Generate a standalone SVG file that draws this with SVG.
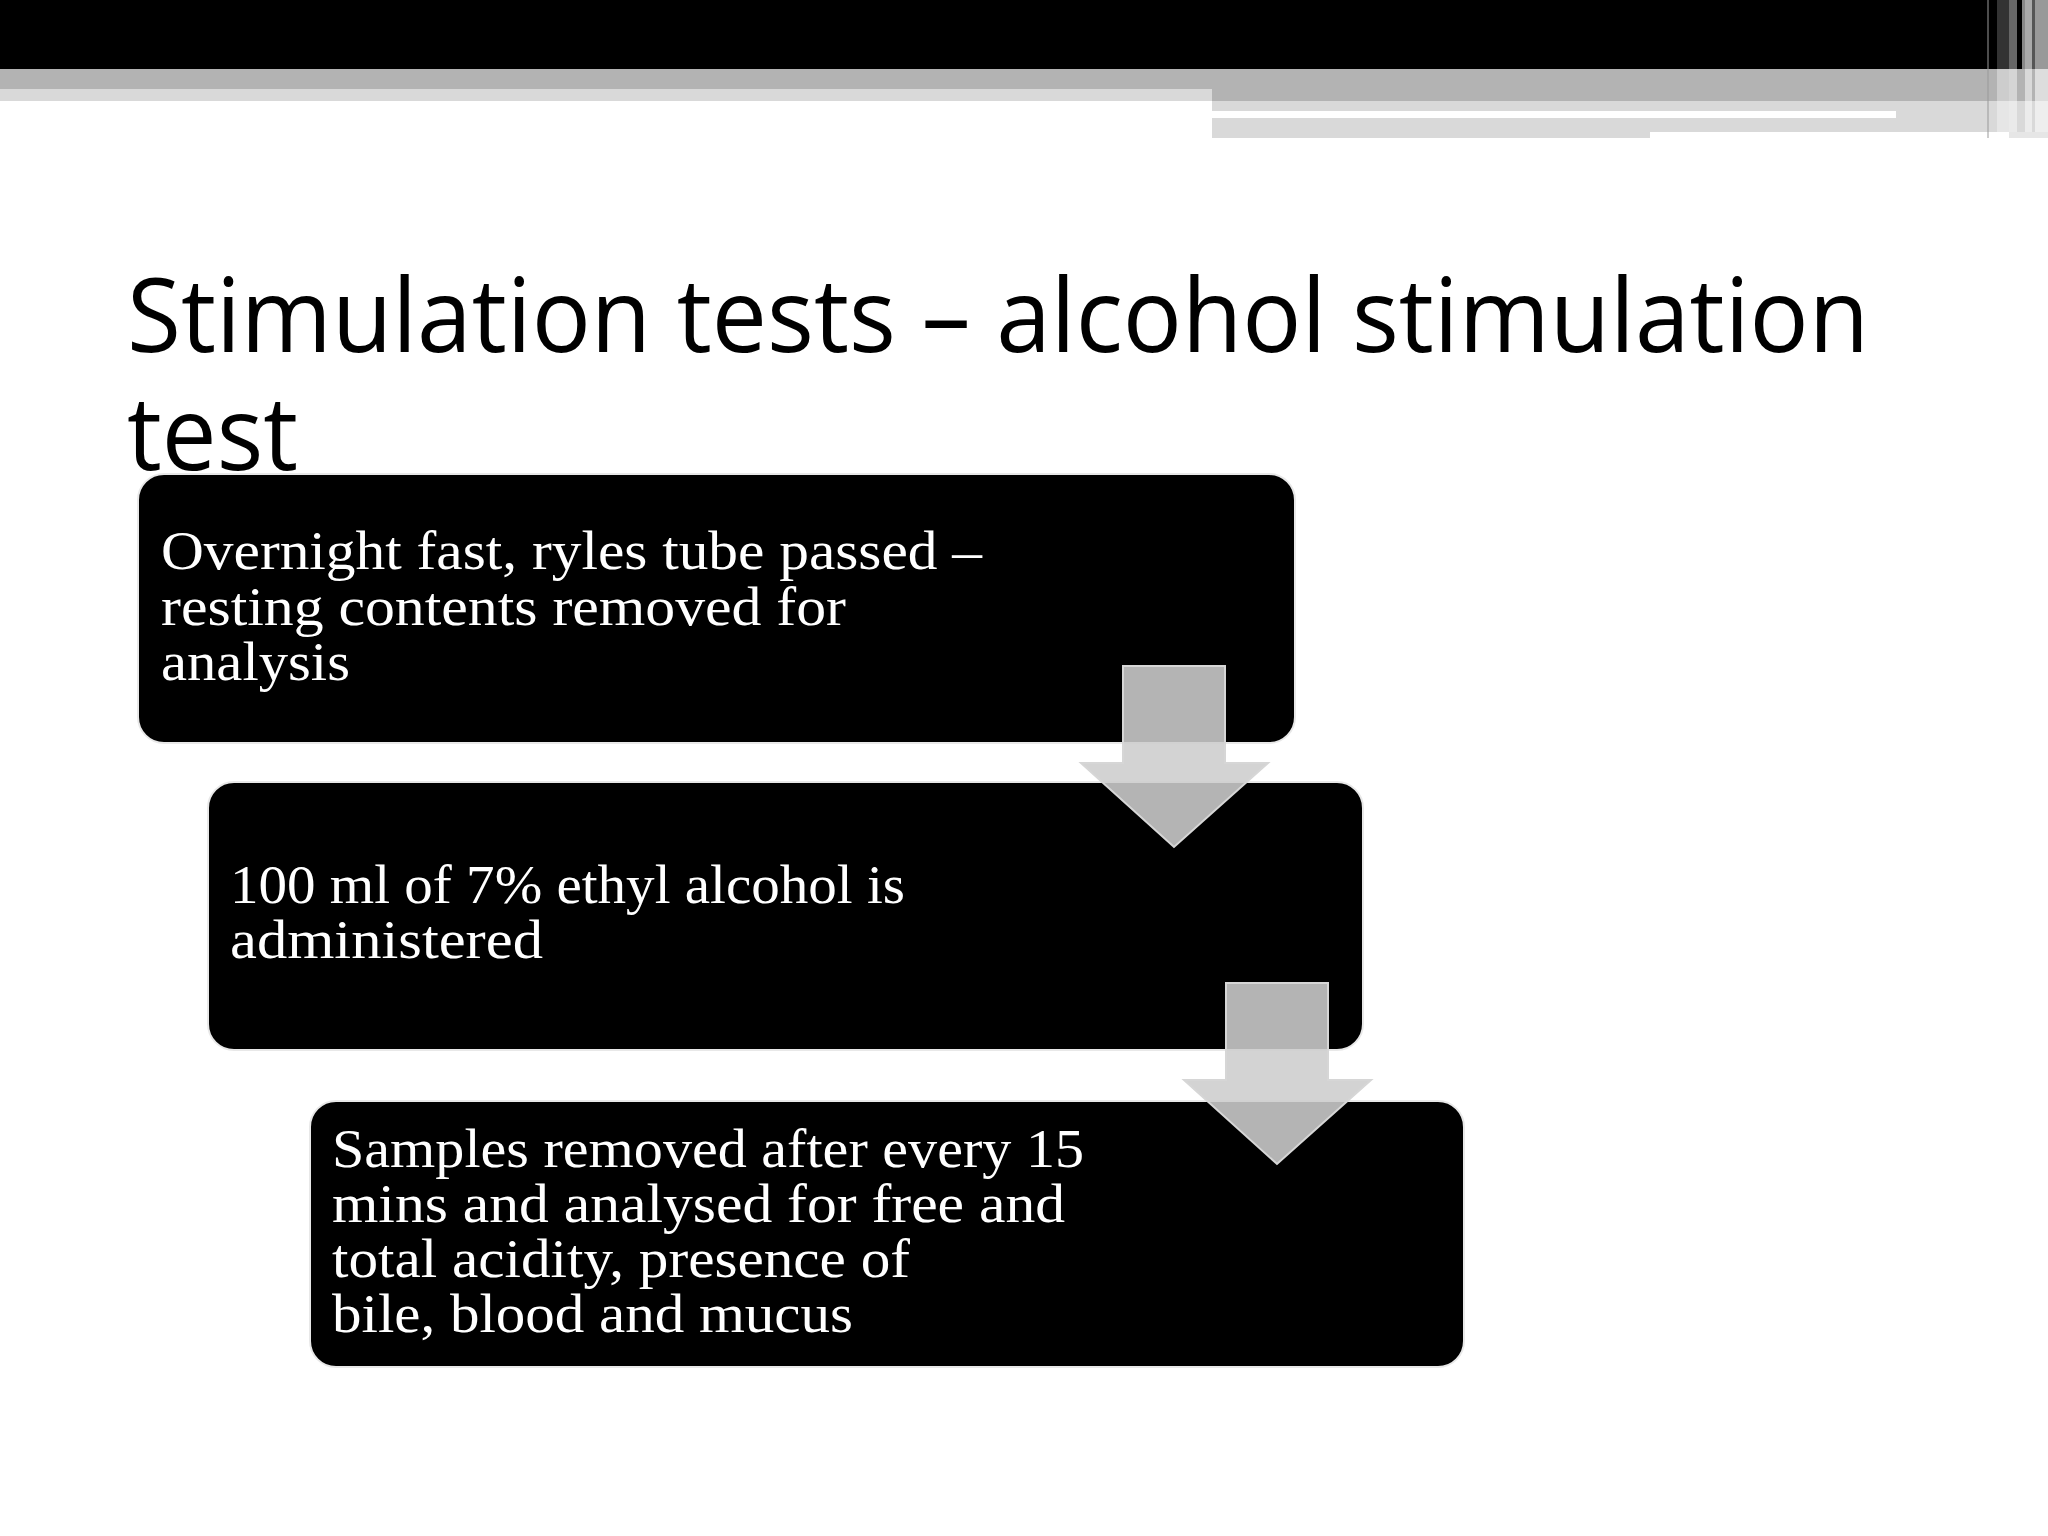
<svg xmlns="http://www.w3.org/2000/svg" width="2048" height="1536" viewBox="0 0 2048 1536">
<style>
.title{font-family:"Open Sans","DejaVu Sans",sans-serif;font-size:103px;fill:#000}
.box{fill:#000;stroke:#e8e8e8;stroke-width:2}
.lbl{font-family:"Liberation Serif","DejaVu Serif",serif;font-size:54px;fill:#fff}
.arrow{fill:rgb(205,205,205);fill-opacity:0.88;stroke:#d6d6d6;stroke-width:2}
</style>
<defs>
<path id="downArrow" d="M1123,666 H1225 V763 H1268 L1174,847 L1081,763 H1123 Z"/>
</defs>
<rect x="0" y="0" width="2048" height="1536" fill="#fff"/>
<g id="header">
<rect x="0" y="0" width="2048" height="69" fill="#000"/>
<rect x="0" y="69" width="2048" height="32" fill="#b3b3b3"/>
<rect x="0" y="89" width="1212" height="12" fill="#d9d9d9"/>
<rect x="1212" y="101" width="836" height="31" fill="#d9d9d9"/>
<rect x="1212" y="111" width="684" height="7" fill="#fff"/>
<rect x="1212" y="132" width="438" height="6" fill="#d9d9d9"/>
<rect x="1986" y="0" width="62" height="138" fill="#fff" opacity="0"/>
<rect x="1987" y="0" width="2" height="138" fill="#999" opacity="0.5"/>
<rect x="1997" y="0" width="12" height="69" fill="#333"/>
<rect x="2009" y="0" width="8" height="69" fill="#666"/>
<rect x="2022" y="0" width="3" height="69" fill="#888"/>
<rect x="2025" y="0" width="7" height="69" fill="#aaa"/>
<rect x="2032" y="0" width="3" height="69" fill="#555"/>
<rect x="2035" y="0" width="13" height="69" fill="#999"/>
<rect x="1997" y="69" width="12" height="69" fill="#fff" opacity="0.35"/>
<rect x="2009" y="69" width="8" height="69" fill="#fff" opacity="0.45"/>
<rect x="2025" y="69" width="7" height="69" fill="#fff" opacity="0.5"/>
<rect x="2035" y="69" width="13" height="69" fill="#fff" opacity="0.55"/>
<rect x="2009" y="132" width="39" height="6" fill="#e6e6e6"/>
</g>
<g id="title">
<text class="title" x="127" y="352" textLength="1742" lengthAdjust="spacingAndGlyphs">Stimulation tests – alcohol stimulation</text>
<text class="title" x="127" y="470" textLength="171" lengthAdjust="spacingAndGlyphs">test</text>
</g>
<g id="node1">
<rect class="box" x="138" y="474" width="1157" height="269" rx="26"/>
<text class="lbl" x="161" y="569" textLength="821" lengthAdjust="spacingAndGlyphs">Overnight fast, ryles tube passed –</text>
<text class="lbl" x="161" y="625" textLength="685" lengthAdjust="spacingAndGlyphs">resting contents removed for</text>
<text class="lbl" x="161" y="680" textLength="189" lengthAdjust="spacingAndGlyphs">analysis</text>
</g>
<g id="node2">
<rect class="box" x="208" y="782" width="1155" height="268" rx="26"/>
<text class="lbl" x="230" y="903" textLength="675" lengthAdjust="spacingAndGlyphs">100 ml of 7% ethyl alcohol is</text>
<text class="lbl" x="230" y="958" textLength="313" lengthAdjust="spacingAndGlyphs">administered</text>
</g>
<g id="node3">
<rect class="box" x="310" y="1101" width="1154" height="266" rx="26"/>
<text class="lbl" x="332" y="1167" textLength="752" lengthAdjust="spacingAndGlyphs">Samples removed after every 15</text>
<text class="lbl" x="332" y="1222" textLength="733" lengthAdjust="spacingAndGlyphs">mins and analysed for free and</text>
<text class="lbl" x="332" y="1277" textLength="578" lengthAdjust="spacingAndGlyphs">total acidity, presence of</text>
<text class="lbl" x="332" y="1332" textLength="521" lengthAdjust="spacingAndGlyphs">bile, blood and mucus</text>
</g>
<g id="connectors">
<use href="#downArrow" class="arrow"/>
<use href="#downArrow" class="arrow" transform="translate(103,317)"/>
</g>
</svg>
